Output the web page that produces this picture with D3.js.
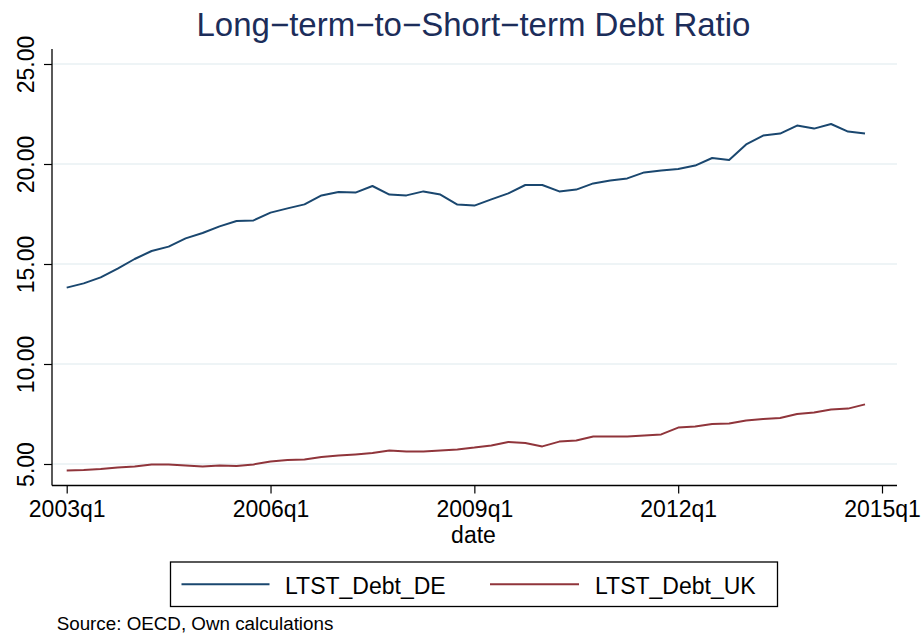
<!DOCTYPE html>
<html>
<head>
<meta charset="utf-8">
<script src="https://cdn.jsdelivr.net/npm/d3@7"></script>
<style>
  html, body { margin: 0; padding: 0; background: #ffffff; }
  svg { display: block; font-family: "Liberation Sans", Arial, Helvetica, sans-serif; }
</style>
</head>
<body>
<svg id="chart" width="924" height="639"></svg>
<script>
// ---- Data ----
const startYear = 2003;
const quarters = [];
for (let y = 2003; y <= 2014; y++) for (let q = 1; q <= 4; q++) quarters.push(y + "q" + q);

const ltstDebtDE = [13.82,14.03,14.33,14.77,15.25,15.65,15.87,16.28,16.55,16.88,
                    17.15,17.18,17.57,17.78,17.98,18.43,18.60,18.57,18.90,18.47,
                    18.43,18.63,18.47,17.97,17.92,18.23,18.53,18.95,18.95,18.63,
                    18.72,19.03,19.17,19.28,19.58,19.67,19.75,19.92,20.30,20.20,
                    20.98,21.42,21.52,21.92,21.77,22.00,21.62,21.52];

const ltstDebtUK = [4.68,4.70,4.75,4.83,4.88,4.98,4.97,4.92,4.87,4.92,
                    4.90,4.98,5.12,5.20,5.22,5.35,5.42,5.48,5.55,5.67,
                    5.63,5.63,5.68,5.73,5.82,5.93,6.10,6.05,5.88,6.12,
                    6.18,6.37,6.37,6.37,6.43,6.48,6.82,6.88,7.00,7.02,
                    7.17,7.25,7.30,7.50,7.57,7.72,7.77,7.98];

const xTickLabels = ["2003q1","2006q1","2009q1","2012q1","2015q1"];
const yTickValues = [5, 10, 15, 20, 25];
const seriesNames = ["LTST_Debt_DE", "LTST_Debt_UK"];
const titleText = "Long\u2212term\u2212to\u2212Short\u2212term Debt Ratio";
const xTitle = "date";
const noteText = "Source: OECD, Own calculations";

// ---- Layout ----
const svg = d3.select("#chart");
const colors = ["#1a476f", "#90353b"];
const font = '"Liberation Sans", Arial, Helvetica, sans-serif';

const quarterIndex = lbl => (parseInt(lbl.slice(0,4)) - startYear) * 4 + (parseInt(lbl.slice(5)) - 1);

const x = d3.scaleLinear().domain([0, 48]).range([66.7, 882]);
const y = d3.scaleLinear().domain([5, 25]).range([464, 64]);

const plotLeft = 52, plotRight = 897, plotTop = 49, plotBottom = 485.5;

// gridlines
svg.append("g").selectAll("line").data(yTickValues).join("line")
  .attr("x1", plotLeft).attr("x2", plotRight)
  .attr("y1", d => y(d)).attr("y2", d => y(d))
  .attr("stroke", "#e9f0f3").attr("stroke-width", 1.5);

// lines
const line = d3.line().x((d, i) => x(i)).y(d => y(d));
[ltstDebtDE, ltstDebtUK].forEach((s, k) => {
  svg.append("path").datum(s)
    .attr("d", line)
    .attr("fill", "none")
    .attr("stroke", colors[k])
    .attr("stroke-width", 2)
    .attr("stroke-linejoin", "round");
});

// y axis
const yAxis = d3.axisLeft(y).tickValues(yTickValues).tickFormat(d3.format(".2f")).tickSize(8).tickPadding(0);
const gy = svg.append("g").attr("transform", `translate(${plotLeft},0)`).call(yAxis);
gy.select(".domain").remove();
gy.selectAll(".tick line").attr("stroke", "#000").attr("stroke-width", 1.2);
gy.selectAll(".tick text")
  .attr("x", 0).attr("y", 0)
  .attr("dx", null).attr("dy", null)
  .attr("text-anchor", "middle")
  .style("font-family", font).style("font-size", "23px").attr("fill", "#000")
  .attr("transform", `translate(${33.5 - plotLeft},0) rotate(-90)`);
gy.append("line").attr("x1", 0).attr("x2", 0).attr("y1", plotTop).attr("y2", plotBottom)
  .attr("stroke", "#000").attr("stroke-width", 1.3);

// x axis
const xAxis = d3.axisBottom(x).tickValues(xTickLabels.map(quarterIndex))
  .tickFormat((d, i) => xTickLabels[i]).tickSize(8).tickPadding(6);
const gx = svg.append("g").attr("transform", `translate(0,${plotBottom})`).call(xAxis);
gx.select(".domain").remove();
gx.selectAll(".tick line").attr("stroke", "#000").attr("stroke-width", 1.2);
gx.selectAll(".tick text")
  .attr("y", 31.8).attr("dy", null)
  .style("font-family", font).style("font-size", "23px").attr("fill", "#000");
gx.append("line").attr("x1", plotLeft).attr("x2", plotRight).attr("y1", 0).attr("y2", 0)
  .attr("stroke", "#000").attr("stroke-width", 1.3);

// x title
svg.append("text").attr("x", 473.5).attr("y", 543)
  .attr("text-anchor", "middle").style("font-size", "23px").attr("fill", "#000").text(xTitle);

// title
svg.append("text").attr("x", 473.5).attr("y", 36)
  .attr("text-anchor", "middle").style("font-size", "33px").attr("fill", "#1c2d5a").text(titleText);

// legend
const lg = svg.append("g");
lg.append("rect").attr("x", 170.5).attr("y", 562).attr("width", 607).attr("height", 44.5)
  .attr("fill", "#fff").attr("stroke", "#000").attr("stroke-width", 1.3);
const legendItems = [
  { name: seriesNames[0], color: colors[0], x1: 181.5, x2: 269.5, tx: 285 },
  { name: seriesNames[1], color: colors[1], x1: 490, x2: 579, tx: 595 }
];
legendItems.forEach(it => {
  lg.append("line").attr("x1", it.x1).attr("x2", it.x2).attr("y1", 584.3).attr("y2", 584.3)
    .attr("stroke", it.color).attr("stroke-width", 2);
  lg.append("text").attr("x", it.tx).attr("y", 594).style("font-size", "23px").attr("fill", "#000").text(it.name);
});

// note
svg.append("text").attr("x", 56.7).attr("y", 630).style("font-size", "18.8px").attr("fill", "#000").text(noteText);
</script>
</body>
</html>
